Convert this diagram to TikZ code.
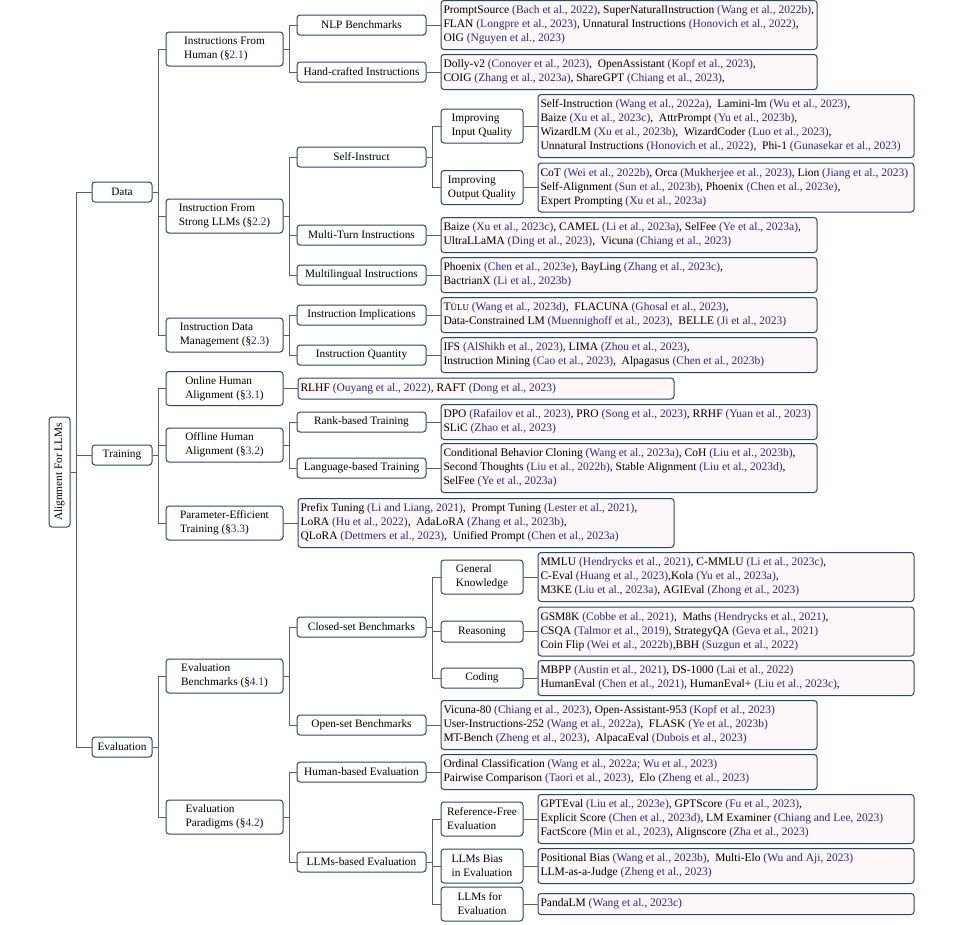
\documentclass[tikz,border=0pt]{standalone}
\usepackage{fontspec}
\setmainfont{Liberation Serif}
\usepackage{graphicx}
\usetikzlibrary{positioning}
\definecolor{bordc}{RGB}{42,70,100}
\definecolor{leaffill}{RGB}{253,247,250}
\definecolor{edgec}{RGB}{95,95,95}
\definecolor{citec}{RGB}{42,42,135}
\newcommand\ct[1]{\textcolor{citec}{(#1)}}
\newcommand\sref[1]{(§\textcolor{citec}{#1})}
\newcommand\lv[1]{\makebox[371pt][l]{\begin{tabular}{@{}l@{}}#1\end{tabular}}}
\tikzset{
 nbase/.style={draw=bordc, line width=1pt, rounded corners=3pt, fill=white, inner sep=0pt, align=left, font=\fontsize{11.3}{14}\selectfont},
 lA/.style={nbase, minimum width=60pt, minimum height=20pt},
 lB/.style={nbase, minimum width=117pt, minimum height=34pt},
 lC/.style={nbase, minimum width=129pt, minimum height=20pt},
 lD/.style={nbase, minimum width=82pt, minimum height=34pt},
 leaf/.style={draw=bordc, line width=1pt, rounded corners=3pt, fill=leaffill, inner xsep=2.5pt, inner ysep=3.5pt, font=\fontsize{11.5}{14}\selectfont},
 conn/.style={draw=edgec, line width=1pt},
}
\begin{document}
\begin{tikzpicture}[x=1pt,y=-1pt]
\useasboundingbox (0,0) rectangle (977,924);
% root
\node[nbase, minimum width=21pt, minimum height=110pt, align=center] (root) at (59.5,472) {\rotatebox{90}{Alignment For LLMs}};
% level 1
\node[lA] (data) at (122,192) {Data};
\node[lA] (train) at (122,455) {Training};
\node[lA] (eval) at (122,747) {Evaluation};
% level 2
\node[lB] (ifh) at (224.5,49) {Instructions From\\Human \sref{2.1}};
\node[lB] (isl) at (224.5,216) {Instruction From\\Strong LLMs \sref{2.2}};
\node[lB] (idm) at (224.5,335) {Instruction Data\\Management \sref{2.3}};
\node[lB] (oha) at (224.5,388.5) {Online Human\\Alignment \sref{3.1}};
\node[lB] (offha) at (224.5,445) {Offline Human\\Alignment \sref{3.2}};
\node[lB] (pet) at (224.5,523) {Parameter-Efficient\\Training \sref{3.3}};
\node[lB] (eb) at (224.5,676) {Evaluation\\Benchmarks \sref{4.1}};
\node[lB] (ep) at (224.5,817) {Evaluation\\Paradigms \sref{4.2}};
% level 3
\node[lC] (nlp) at (361.5,25) {NLP Benchmarks};
\node[lC] (hci) at (361.5,72) {Hand-crafted Instructions};
\node[lC] (si) at (361.5,157) {Self-Instruct};
\node[lC] (mt) at (361.5,235) {Multi-Turn Instructions};
\node[lC] (ml) at (361.5,275) {Multilingual Instructions};
\node[lC] (ii) at (361.5,315) {Instruction Implications};
\node[lC] (iq) at (361.5,355) {Instruction Quantity};
\node[lC] (rbt) at (361.5,422) {Rank-based Training};
\node[lC] (lbt) at (361.5,468) {Language-based Training};
\node[lC] (csb) at (361.5,627) {Closed-set Benchmarks};
\node[lC] (osb) at (361.5,725) {Open-set Benchmarks};
\node[lC] (hbe) at (361.5,772) {Human-based Evaluation};
\node[lC] (lbe) at (361.5,862) {LLMs-based Evaluation};
% level 4
\node[lD] (iiq) at (482,126) {Improving\\Input Quality};
\node[lD] (ioq) at (482,187.5) {Improving\\Output Quality};
\node[lD] (gk) at (482,577) {General\\Knowledge};
\node[lD, minimum height=21pt] (rs) at (482,631.5) {Reasoning};
\node[lD, minimum height=20pt] (cd) at (482,678) {Coding};
\node[lD] (rfe) at (482,819) {Reference-Free\\Evaluation};
\node[lD] (lbias) at (482,866) {LLMs Bias\\in Evaluation};
\node[lD] (lfe) at (482,904) {LLMs for\\Evaluation};
% leaves
\node[leaf, right=14pt of nlp] (Lnlp) {\lv{PromptSource \ct{Bach et al., 2022}, SuperNaturalInstruction \ct{Wang et al., 2022b},\\FLAN \ct{Longpre et al., 2023}, Unnatural Instructions \ct{Honovich et al., 2022},\\OIG \ct{Nguyen et al., 2023}}};
\node[leaf, right=14pt of hci] (Lhci) {\lv{Dolly-v2 \ct{Conover et al., 2023},\ \ OpenAssistant \ct{Kopf et al., 2023},\\COIG \ct{Zhang et al., 2023a}, ShareGPT \ct{Chiang et al., 2023},}};
\node[leaf, right=14pt of iiq] (Liiq) {\lv{Self-Instruction \ct{Wang et al., 2022a},\ \ Lamini-lm \ct{Wu et al., 2023},\\Baize \ct{Xu et al., 2023c},\ \ AttrPrompt \ct{Yu et al., 2023b},\\WizardLM \ct{Xu et al., 2023b},\ \ WizardCoder \ct{Luo et al., 2023},\\Unnatural Instructions \ct{Honovich et al., 2022},\ \ Phi-1 \ct{Gunasekar et al., 2023}}};
\node[leaf, right=14pt of ioq] (Lioq) {\lv{CoT \ct{Wei et al., 2022b}, Orca \ct{Mukherjee et al., 2023}, Lion \ct{Jiang et al., 2023}\\Self-Alignment \ct{Sun et al., 2023b}, Phoenix \ct{Chen et al., 2023e},\\Expert Prompting \ct{Xu et al., 2023a}}};
\node[leaf, right=14pt of mt] (Lmt) {\lv{Baize \ct{Xu et al., 2023c}, CAMEL \ct{Li et al., 2023a}, SelFee \ct{Ye et al., 2023a},\\UltraLLaMA \ct{Ding et al., 2023},\ \ Vicuna \ct{Chiang et al., 2023}}};
\node[leaf, right=14pt of ml] (Lml) {\lv{Phoenix \ct{Chen et al., 2023e}, BayLing \ct{Zhang et al., 2023c},\\BactrianX \ct{Li et al., 2023b}}};
\node[leaf, right=14pt of ii] (Lii) {\lv{T{\fontsize{9}{14}\selectfont ÜLU} \ct{Wang et al., 2023d},\ \ FLACUNA \ct{Ghosal et al., 2023},\\Data-Constrained LM \ct{Muennighoff et al., 2023},\ \ BELLE \ct{Ji et al., 2023}}};
\node[leaf, right=14pt of iq] (Liq) {\lv{IFS \ct{AlShikh et al., 2023}, LIMA \ct{Zhou et al., 2023},\\Instruction Mining \ct{Cao et al., 2023},\ \ Alpagasus \ct{Chen et al., 2023b}}};
\node[leaf, right=14pt of oha] (Loha) {\lv{RLHF \ct{Ouyang et al., 2022}, RAFT \ct{Dong et al., 2023}}};
\node[leaf, right=14pt of rbt] (Lrbt) {\lv{DPO \ct{Rafailov et al., 2023}, PRO \ct{Song et al., 2023}, RRHF \ct{Yuan et al., 2023}\\SLiC \ct{Zhao et al., 2023}}};
\node[leaf, right=14pt of lbt] (Llbt) {\lv{Conditional Behavior Cloning \ct{Wang et al., 2023a}, CoH \ct{Liu et al., 2023b},\\Second Thoughts \ct{Liu et al., 2022b}, Stable Alignment \ct{Liu et al., 2023d},\\SelFee \ct{Ye et al., 2023a}}};
\node[leaf, right=14pt of pet] (Lpet) {\lv{Prefix Tuning \ct{Li and Liang, 2021},\ \ Prompt Tuning \ct{Lester et al., 2021},\\LoRA \ct{Hu et al., 2022},\ \ AdaLoRA \ct{Zhang et al., 2023b},\\QLoRA \ct{Dettmers et al., 2023},\ \ Unified Prompt \ct{Chen et al., 2023a}}};
\node[leaf, right=14pt of gk] (Lgk) {\lv{MMLU \ct{Hendrycks et al., 2021}, C-MMLU \ct{Li et al., 2023c},\\C-Eval \ct{Huang et al., 2023},Kola \ct{Yu et al., 2023a},\\M3KE \ct{Liu et al., 2023a}, AGIEval \ct{Zhong et al., 2023}}};
\node[leaf, right=14pt of rs] (Lrs) {\lv{GSM8K \ct{Cobbe et al., 2021},\ \ Maths \ct{Hendrycks et al., 2021},\\CSQA \ct{Talmor et al., 2019}, StrategyQA \ct{Geva et al., 2021}\\Coin Flip \ct{Wei et al., 2022b},BBH \ct{Suzgun et al., 2022}}};
\node[leaf, right=14pt of cd] (Lcd) {\lv{MBPP \ct{Austin et al., 2021}, DS-1000 \ct{Lai et al., 2022}\\HumanEval \ct{Chen et al., 2021}, HumanEval+ \ct{Liu et al., 2023c},}};
\node[leaf, right=14pt of osb] (Losb) {\lv{Vicuna-80 \ct{Chiang et al., 2023}, Open-Assistant-953 \ct{Kopf et al., 2023}\\User-Instructions-252 \ct{Wang et al., 2022a},\ \ FLASK \ct{Ye et al., 2023b}\\MT-Bench \ct{Zheng et al., 2023},\ \ AlpacaEval \ct{Dubois et al., 2023}}};
\node[leaf, right=14pt of hbe] (Lhbe) {\lv{Ordinal Classification \ct{Wang et al., 2022a; Wu et al., 2023}\\Pairwise Comparison \ct{Taori et al., 2023},\ \ Elo \ct{Zheng et al., 2023}}};
\node[leaf, right=14pt of rfe] (Lrfe) {\lv{GPTEval \ct{Liu et al., 2023e}, GPTScore \ct{Fu et al., 2023},\\Explicit Score \ct{Chen et al., 2023d}, LM Examiner \ct{Chiang and Lee, 2023}\\FactScore \ct{Min et al., 2023}, Alignscore \ct{Zha et al., 2023}}};
\node[leaf, right=14pt of lbias] (Llbias) {\lv{Positional Bias \ct{Wang et al., 2023b},\ \ Multi-Elo \ct{Wu and Aji, 2023}\\LLM-as-a-Judge \ct{Zheng et al., 2023}}};
\node[leaf, right=14pt of lfe] (Llfe) {\lv{PandaLM \ct{Wang et al., 2023c}}};
% tree connectors
\foreach \c in {data,train,eval} \draw[conn] (root.east) -- ++(6,0) |- (\c.west);
\foreach \c in {ifh,isl,idm} \draw[conn] (data.east) -- ++(6,0) |- (\c.west);
\foreach \c in {oha,offha,pet} \draw[conn] (train.east) -- ++(6,0) |- (\c.west);
\foreach \c in {eb,ep} \draw[conn] (eval.east) -- ++(6,0) |- (\c.west);
\foreach \c in {nlp,hci} \draw[conn] (ifh.east) -- ++(6,0) |- (\c.west);
\foreach \c in {si,mt,ml} \draw[conn] (isl.east) -- ++(6,0) |- (\c.west);
\foreach \c in {ii,iq} \draw[conn] (idm.east) -- ++(6,0) |- (\c.west);
\foreach \c in {rbt,lbt} \draw[conn] (offha.east) -- ++(6,0) |- (\c.west);
\foreach \c in {csb,osb} \draw[conn] (eb.east) -- ++(6,0) |- (\c.west);
\foreach \c in {hbe,lbe} \draw[conn] (ep.east) -- ++(6,0) |- (\c.west);
\foreach \c in {iiq,ioq} \draw[conn] (si.east) -- ++(6,0) |- (\c.west);
\foreach \c in {gk,rs,cd} \draw[conn] (csb.east) -- ++(6,0) |- (\c.west);
\foreach \c in {rfe,lbias,lfe} \draw[conn] (lbe.east) -- ++(6,0) |- (\c.west);
% leaf connectors
\foreach \p/\l in {nlp/Lnlp,hci/Lhci,iiq/Liiq,ioq/Lioq,mt/Lmt,ml/Lml,ii/Lii,iq/Liq,oha/Loha,rbt/Lrbt,lbt/Llbt,pet/Lpet,gk/Lgk,rs/Lrs,cd/Lcd,osb/Losb,hbe/Lhbe,rfe/Lrfe,lbias/Llbias,lfe/Llfe}
  \draw[conn] (\p.east) -- (\l.west);
\end{tikzpicture}
\end{document}
